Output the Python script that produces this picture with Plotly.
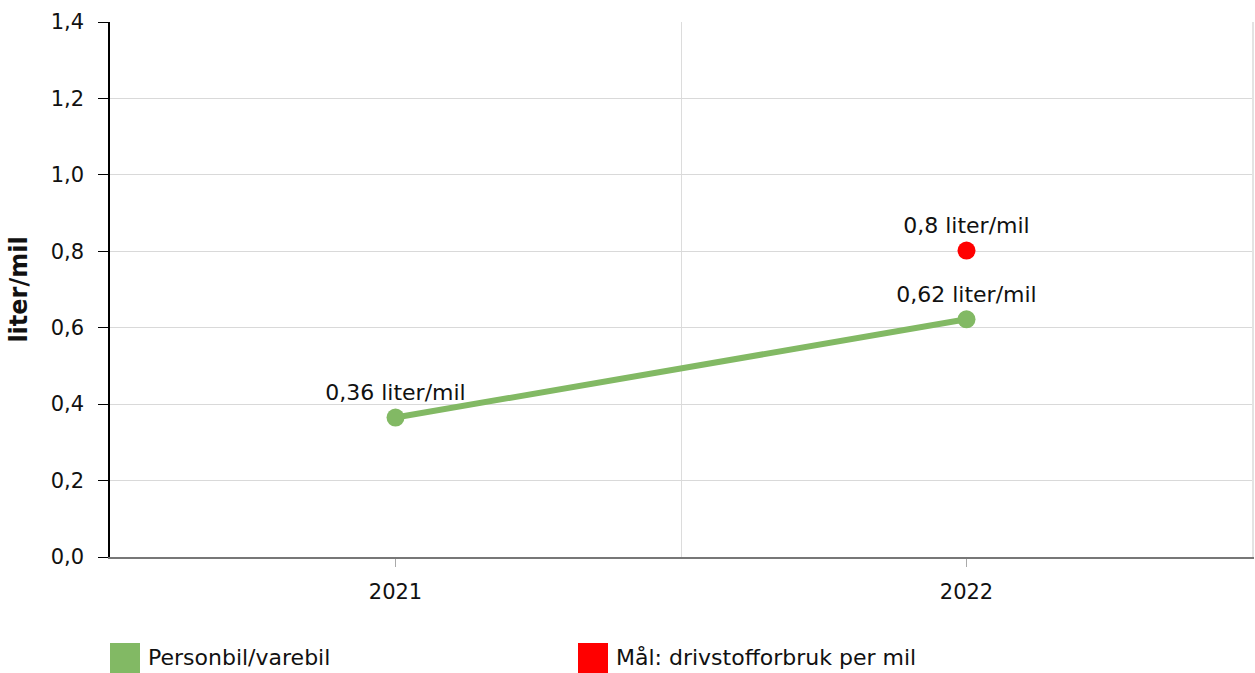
import plotly.graph_objects as go

years = ["2021", "2022"]
personbil_values = [0.365, 0.622]
personbil_labels = ["0,36 liter/mil", "0,62 liter/mil"]
maal_years = ["2022"]
maal_values = [0.802]
maal_labels = ["0,8 liter/mil"]
series_names = ["Personbil/varebil", "Mål: drivstofforbruk per mil"]
series_colors = ["#82b964", "#ff0000"]

FONT = "Verdana, DejaVu Sans, sans-serif"
xpos = {y: i for i, y in enumerate(years)}

fig = go.Figure()
fig.add_trace(go.Scatter(
    x=[xpos[y] for y in years], y=personbil_values,
    mode="lines+markers+text",
    line=dict(color=series_colors[0], width=6),
    marker=dict(color=series_colors[0], size=18),
    text=personbil_labels, textposition="top center",
    textfont=dict(family=FONT, size=22, color="#111"),
    name=series_names[0], showlegend=False, cliponaxis=False,
))
fig.add_trace(go.Scatter(
    x=[xpos[y] for y in maal_years], y=maal_values, yaxis="y2",
    mode="markers+text",
    marker=dict(color=series_colors[1], size=18),
    text=maal_labels, textposition="top center",
    textfont=dict(family=FONT, size=22, color="#111"),
    name=series_names[1], showlegend=False, cliponaxis=False,
))

# manual legend (large squares)
plot_w = 1255 - 110 - 3
plot_h = 673 - 22 - 116
legend_x = [0, (578 - 110) / plot_w]
sq_w = 30 / plot_w
y_top = (557 - 643) / plot_h
y_bot = (557 - 673) / plot_h
for i, name in enumerate(series_names):
    fig.add_shape(type="rect", xref="paper", yref="paper",
                  x0=legend_x[i], x1=legend_x[i] + sq_w, y0=y_bot, y1=y_top,
                  fillcolor=series_colors[i], line=dict(width=0))
    fig.add_annotation(xref="paper", yref="paper", x=legend_x[i] + sq_w + 6 / plot_w,
                       y=(557 - 657) / plot_h, xanchor="left", yanchor="middle",
                       text=name, showarrow=False,
                       font=dict(family=FONT, size=22, color="#111"))

fig.update_layout(
    width=1255, height=673,
    margin=dict(l=110, r=3, t=22, b=116),
    paper_bgcolor="white", plot_bgcolor="white",
    separators=", ",
    font=dict(family=FONT, size=21, color="#111"),
    xaxis=dict(
        range=[-0.5, 1.5], tickvals=[0, 1], ticktext=years,
        showgrid=False, showline=True, linecolor="#777", linewidth=2,
        ticks="outside", ticklen=8, tickcolor="#aaa",
        tickfont=dict(family=FONT, size=21, color="#111"),
        ticklabelstandoff=7,
        zeroline=False,
        minor=dict(tick0=0.5, dtick=1, showgrid=True, gridcolor="#dcdcdc", gridwidth=1, ticks=""),
    ),
    yaxis=dict(
        range=[0, 1.4], dtick=0.2, tickformat=".1f",
        showgrid=True, gridcolor="#d9d9d9", gridwidth=1,
        showline=True, linecolor="#000", linewidth=1.5,
        ticks="outside", ticklen=10, tickcolor="#000",
        tickfont=dict(family=FONT, size=21, color="#111"),
        ticklabelstandoff=10,
        zeroline=False,
        title=dict(text="<b>liter/mil</b>", font=dict(family=FONT, size=24, color="#111"), standoff=16),
    ),
    yaxis2=dict(
        overlaying="y", side="right", range=[0, 1.4],
        showline=True, linecolor="#e3e3e3", linewidth=2,
        showgrid=False, showticklabels=False, ticks="", zeroline=False,
    ),
)

fig.write_html("out.html", config={"displayModeBar": False},
               post_script="document.body.style.margin='0';document.body.style.overflow='hidden';")
